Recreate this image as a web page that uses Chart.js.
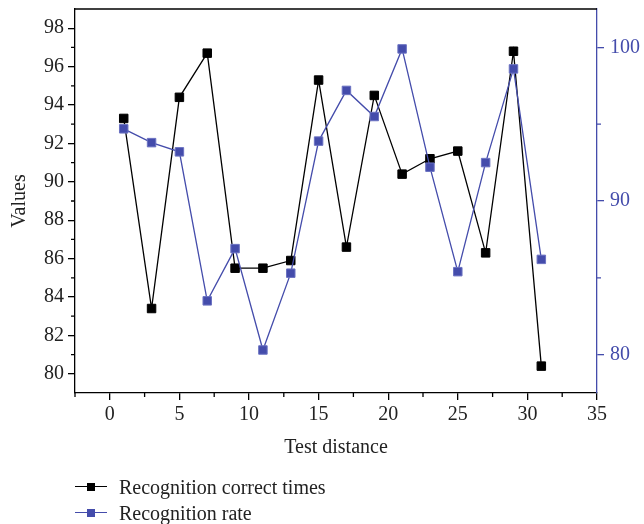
<!DOCTYPE html>
<html>
<head>
<meta charset="utf-8">
<script src="https://cdn.jsdelivr.net/npm/chart.js@4.4.1/dist/chart.umd.min.js"></script>
<style>
  body { margin: 0; background: #fff; }
  #wrap { position: relative; width: 644px; height: 524px; }
  #legend { position: absolute; left: 75px; top: 474px; font-family: "Liberation Serif", serif; font-size: 20px; color: #222; }
  .row { display: flex; align-items: center; height: 26px; }
  .icon { position: relative; width: 32px; height: 10px; margin-right: 12px; }
  .icon .ln { position: absolute; left: 0; right: 0; top: 4px; height: 1.4px; }
  .icon .sq { position: absolute; left: 12px; top: 1px; width: 8px; height: 8px; }
</style>
</head>
<body>
<div id="wrap">
  <canvas id="chart" width="644" height="524"></canvas>
  <div id="legend">
    <div class="row"><span class="icon"><span class="ln" style="background:#000"></span><span class="sq" style="background:#000"></span></span>Recognition correct times</div>
    <div class="row"><span class="icon"><span class="ln" style="background:#444cab"></span><span class="sq" style="background:#444cab"></span></span>Recognition rate</div>
  </div>
</div>
<script>
// donnees
const distances = [1, 3, 5, 7, 9, 11, 13, 15, 17, 19, 21, 23, 25, 27, 29, 31];
const correctTimes = [93.3, 83.4, 94.4, 96.7, 85.5, 85.5, 85.9, 95.3, 86.6, 94.5, 90.4, 91.2, 91.6, 86.3, 96.8, 80.4];
const recognitionRate = [94.7, 93.8, 93.2, 83.5, 86.9, 80.3, 85.3, 93.9, 97.2, 95.5, 99.9, 92.2, 85.4, 92.5, 98.6, 86.2];

const xTicks = [0, 5, 10, 15, 20, 25, 30, 35];
const leftTicks = [80, 82, 84, 86, 88, 90, 92, 94, 96, 98];
const rightTicks = [80, 90, 100];
const xMinor = [-2.5, 2.5, 7.5, 12.5, 17.5, 22.5, 27.5, 32.5];
const leftMinor = [81, 83, 85, 87, 89, 91, 93, 95, 97];
const rightMinor = [85, 95];

const BLUE = '#444cab';
const FONT = "'Liberation Serif', serif";

function toPoints(xs, ys) {
    return xs.map((x, i) => ({ x: x, y: ys[i] }));
}

// petites graduations + bord du haut
const frame = {
    id: 'frame',
    afterDraw(chart) {
        const ctx = chart.ctx;
        const a = chart.chartArea;
        ctx.save();
        ctx.lineWidth = 1.3;
        ctx.strokeStyle = '#000';
        ctx.beginPath();
        ctx.moveTo(a.left, a.top);
        ctx.lineTo(a.right, a.top);
        ctx.stroke();

        ctx.beginPath();
        xMinor.forEach(v => {
            const px = chart.scales.x.getPixelForValue(v);
            ctx.moveTo(px, a.bottom);
            ctx.lineTo(px, a.bottom + 4);
        });
        leftMinor.forEach(v => {
            const py = chart.scales.y.getPixelForValue(v);
            ctx.moveTo(a.left, py);
            ctx.lineTo(a.left - 4, py);
        });
        ctx.stroke();

        ctx.strokeStyle = BLUE;
        ctx.beginPath();
        rightMinor.forEach(v => {
            const py = chart.scales.y2.getPixelForValue(v);
            ctx.moveTo(a.right, py);
            ctx.lineTo(a.right + 4, py);
        });
        ctx.stroke();
        ctx.restore();
    }
};

const ctx = document.getElementById('chart').getContext('2d');
new Chart(ctx, {
    type: 'line',
    data: {
        datasets: [{
            label: 'Recognition rate',
            data: toPoints(distances, recognitionRate),
            yAxisID: 'y2',
            borderColor: BLUE,
            backgroundColor: BLUE,
            borderWidth: 1.3,
            pointStyle: 'rect',
            pointRadius: 6,
            pointBorderWidth: 1,
            pointBorderColor: '#6b72c2',
            tension: 0,
            order: 0
        }, {
            label: 'Recognition correct times',
            data: toPoints(distances, correctTimes),
            yAxisID: 'y',
            borderColor: '#000',
            backgroundColor: '#000',
            borderWidth: 1.3,
            pointStyle: 'rect',
            pointRadius: 6,
            pointBorderWidth: 1,
            pointBorderColor: '#000',
            tension: 0,
            order: 1
        }]
    },
    options: {
        responsive: false,
        animation: false,
        layout: { padding: { top: 9, bottom: 61, left: 0, right: 0 } },
        plugins: {
            legend: { display: false },
            tooltip: { enabled: false }
        },
        scales: {
            x: {
                type: 'linear',
                min: -2.5,
                max: 35,
                afterBuildTicks: s => { s.ticks = xTicks.map(v => ({ value: v })); },
                afterFit: s => { s.height = 70; s.paddingLeft = 0; s.paddingRight = 0; },
                grid: { drawOnChartArea: false, drawTicks: true, tickLength: 7, color: '#000', lineWidth: 1.3 },
                border: { color: '#000', width: 1.3 },
                ticks: { color: '#222', font: { family: FONT, size: 20 }, padding: 3, maxRotation: 0, autoSkip: false },
                title: { display: true, text: 'Test distance', color: '#222', font: { family: FONT, size: 20 }, padding: { top: 2, bottom: 3 } }
            },
            y: {
                position: 'left',
                min: 79,
                max: 99,
                afterBuildTicks: s => { s.ticks = leftTicks.map(v => ({ value: v })); },
                afterFit: s => { s.width = 75; s.paddingTop = 0; s.paddingBottom = 0; },
                grid: { drawOnChartArea: false, drawTicks: true, tickLength: 7, color: '#000', lineWidth: 1.3 },
                border: { color: '#000', width: 1.3 },
                ticks: { color: '#222', font: { family: FONT, size: 20 }, padding: 4 },
                title: { display: true, text: 'Values', color: '#222', font: { family: FONT, size: 20 }, padding: { top: 8, bottom: 0 } }
            },
            y2: {
                position: 'right',
                min: 77.5,
                max: 102.5,
                afterBuildTicks: s => { s.ticks = rightTicks.map(v => ({ value: v })); },
                afterFit: s => { s.width = 47; s.paddingTop = 0; s.paddingBottom = 0; },
                grid: { drawOnChartArea: false, drawTicks: true, tickLength: 7, color: BLUE, lineWidth: 1.3 },
                border: { color: BLUE, width: 1.3 },
                ticks: { color: BLUE, font: { family: FONT, size: 20 }, padding: 6 }
            }
        }
    },
    plugins: [frame]
});
</script>
</body>
</html>
